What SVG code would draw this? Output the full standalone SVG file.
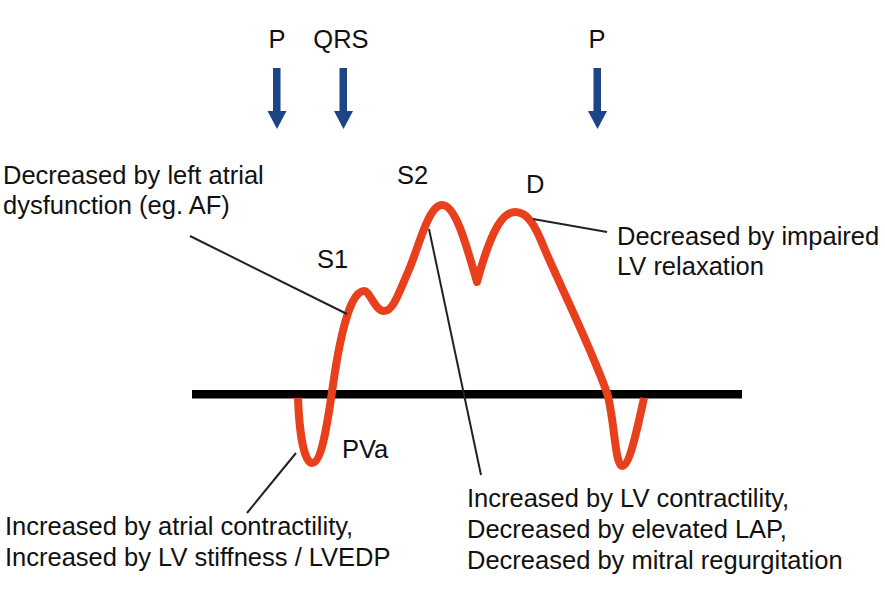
<svg xmlns="http://www.w3.org/2000/svg" width="885" height="593" viewBox="0 0 885 593">
<defs>
<style>
.t{font-family:"Liberation Sans",Arial,sans-serif;font-size:25.5px;fill:#111}
.lead{stroke:#222;stroke-width:2;fill:none}
.arr{fill:#1b4584}
</style>
</defs>
<rect width="885" height="593" fill="#fff"/>
<g id="markers">
<g id="p1"><text class="t" x="277" y="48" text-anchor="middle">P</text><rect class="arr" x="273" y="68" width="7.5" height="46"/><polygon class="arr" points="267.5,111 286.5,111 277,129"/></g>
<g id="qrs"><text class="t" x="341" y="48" text-anchor="middle">QRS</text><rect class="arr" x="339.5" y="68" width="7.5" height="46"/><polygon class="arr" points="334,111 353,111 343.5,129"/></g>
<g id="p2"><text class="t" x="597" y="48" text-anchor="middle">P</text><rect class="arr" x="593.5" y="68" width="7.5" height="46"/><polygon class="arr" points="588,111 607,111 597.5,129"/></g>
</g>
<g id="baseline"><rect x="192" y="390" width="550" height="8.5" fill="#000"/></g>
<g id="waveform">
<path d="M 298 398 C 299 425, 303 463, 312 463 C 322 463, 328 420, 333 385 C 338 350, 345 318, 352 303 C 356 295, 360 291, 364 291 C 370 291, 375 311, 384 311 C 393 311, 398 295, 408 272 C 418 250, 428 205, 442 205 C 455 205, 465 240, 477 282 C 487 245, 499 212, 515 212 C 528 212, 535 225, 545 250 C 560 285, 592 350, 607 393 C 614 415, 615 466, 622 466 C 630 466, 638 425, 644 398" fill="none" stroke="#e8401c" stroke-width="8" stroke-linejoin="round" stroke-linecap="butt"/>
</g>
<g id="connectors">
<line class="lead" x1="190" y1="236" x2="347" y2="314"/>
<line class="lead" x1="429" y1="229" x2="481" y2="475"/>
<line class="lead" x1="533" y1="219" x2="607" y2="232"/>
<line class="lead" x1="296" y1="453" x2="247" y2="513"/>
</g>
<g id="wave-labels">
<text class="t" x="317" y="268">S1</text>
<text class="t" x="397" y="184">S2</text>
<text class="t" x="526" y="193">D</text>
<text class="t" x="342" y="458">PVa</text>
</g>
<g id="note-s1"><text class="t" x="3" y="184">Decreased by left atrial</text><text class="t" x="3" y="214">dysfunction (eg. AF)</text></g>
<g id="note-d"><text class="t" x="617" y="245">Decreased by impaired</text><text class="t" x="617" y="275">LV relaxation</text></g>
<g id="note-pva"><text class="t" x="5" y="535">Increased by atrial contractility,</text><text class="t" x="5" y="566">Increased by LV stiffness / LVEDP</text></g>
<g id="note-s2"><text class="t" x="467" y="507">Increased by LV contractility,</text><text class="t" x="467" y="538">Decreased by elevated LAP,</text><text class="t" x="467" y="569">Decreased by mitral regurgitation</text></g>
</svg>
